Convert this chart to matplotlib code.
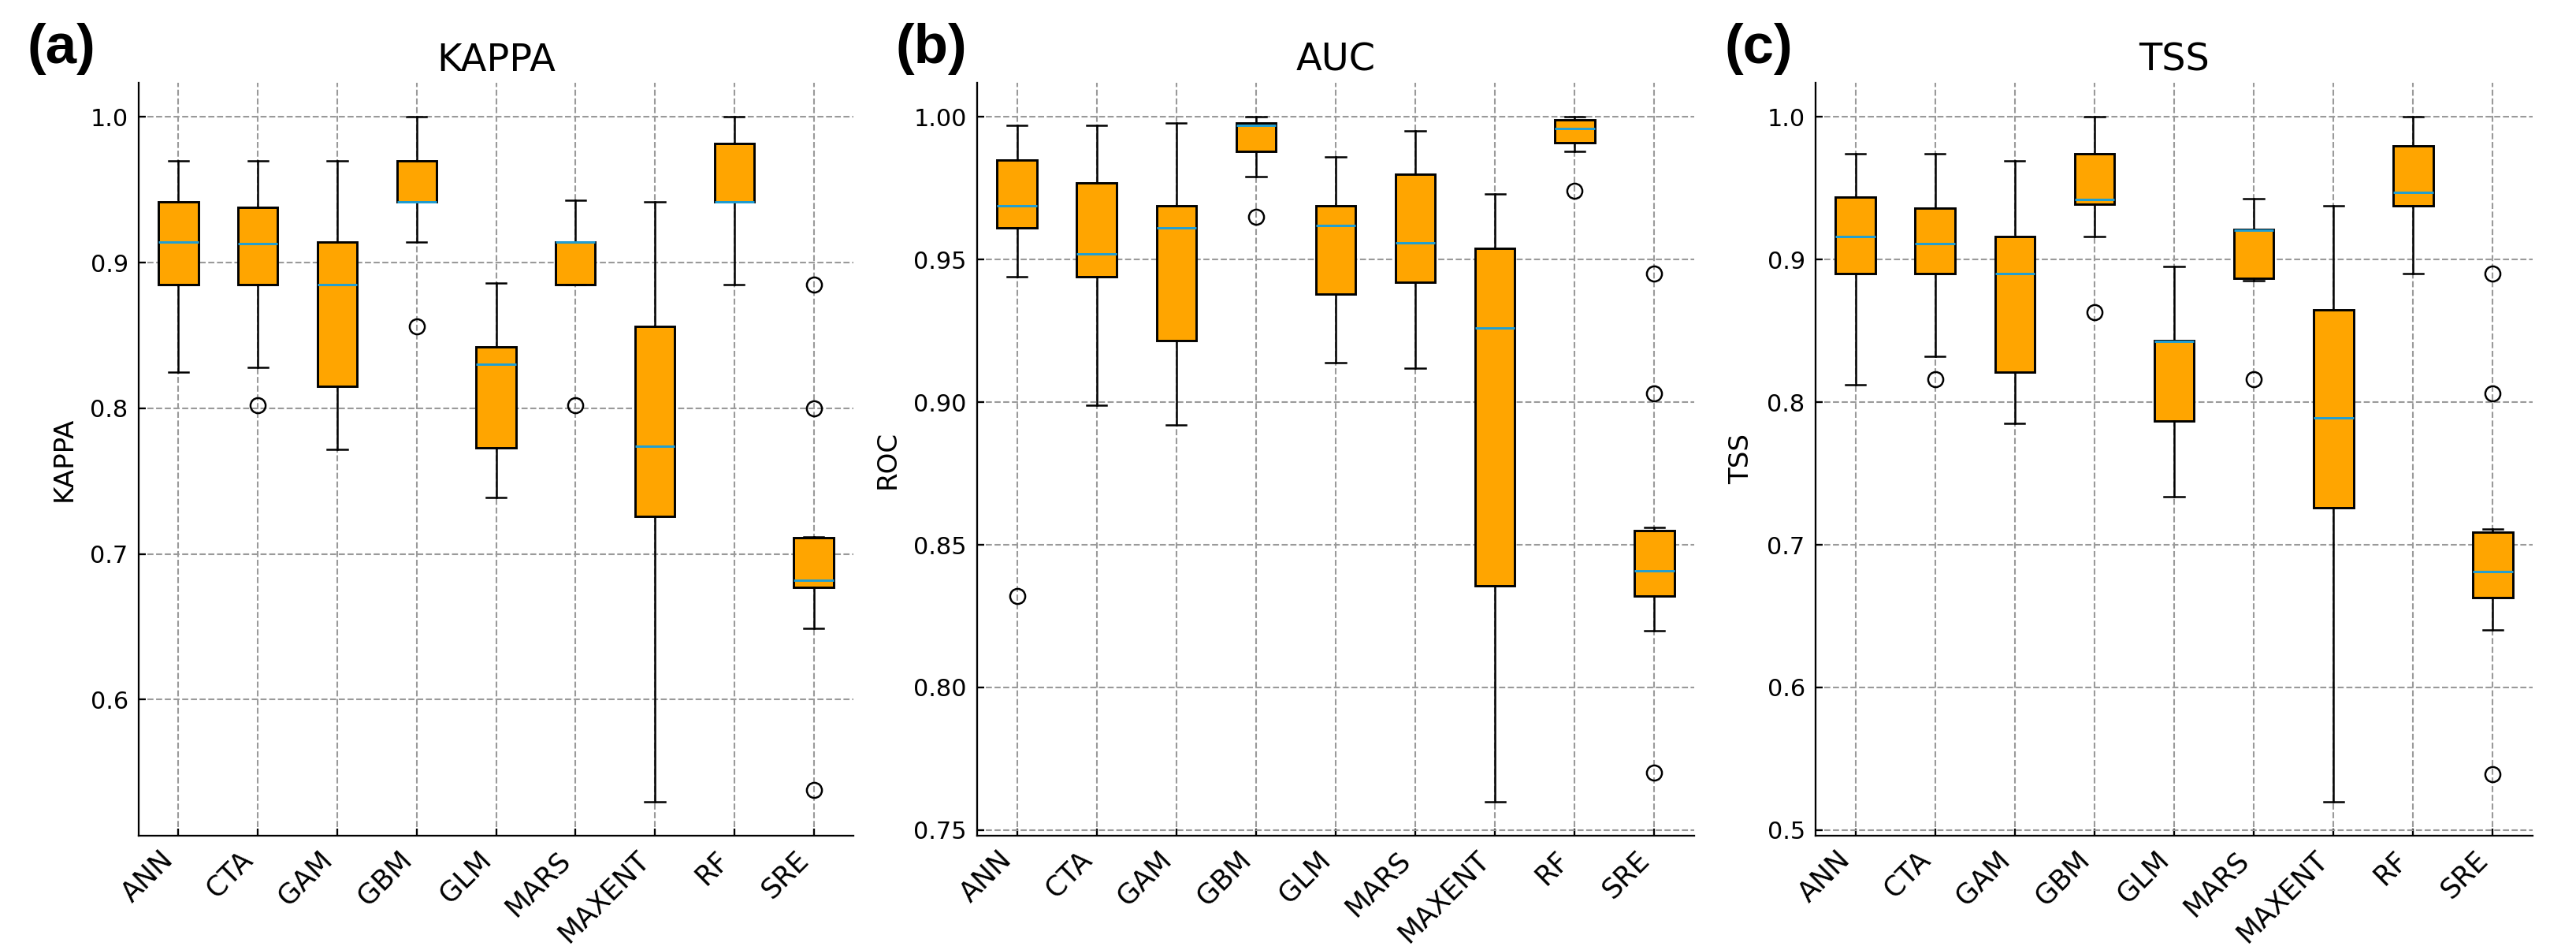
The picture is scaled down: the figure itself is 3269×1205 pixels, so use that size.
import matplotlib
matplotlib.use("Agg")
import matplotlib.pyplot as plt

models = ["ANN", "CTA", "GAM", "GBM", "GLM", "MARS", "MAXENT", "RF", "SRE"]

# KAPPA
kappa_whislo = [0.825, 0.828, 0.772, 0.914, 0.739, 0.885, 0.530, 0.885, 0.649]
kappa_q1 = [0.885, 0.885, 0.815, 0.942, 0.773, 0.885, 0.726, 0.942, 0.677]
kappa_med = [0.914, 0.913, 0.885, 0.942, 0.830, 0.914, 0.774, 0.942, 0.682]
kappa_q3 = [0.942, 0.938, 0.914, 0.970, 0.842, 0.914, 0.856, 0.982, 0.711]
kappa_whishi = [0.970, 0.970, 0.970, 1.000, 0.886, 0.943, 0.942, 1.000, 0.7115]
kappa_fliers = [[], [0.802], [], [0.856], [], [0.802], [], [], [0.885, 0.800, 0.538]]

# AUC (ROC)
auc_whislo = [0.944, 0.899, 0.892, 0.979, 0.914, 0.912, 0.760, 0.988, 0.820]
auc_q1 = [0.961, 0.944, 0.9215, 0.988, 0.938, 0.942, 0.8355, 0.991, 0.832]
auc_med = [0.969, 0.952, 0.961, 0.997, 0.962, 0.956, 0.926, 0.996, 0.841]
auc_q3 = [0.985, 0.977, 0.969, 0.998, 0.969, 0.980, 0.954, 0.999, 0.855]
auc_whishi = [0.997, 0.997, 0.998, 1.000, 0.986, 0.995, 0.973, 1.000, 0.856]
auc_fliers = [[0.832], [], [], [0.965], [], [], [], [0.974], [0.945, 0.903, 0.770]]

# TSS
tss_whislo = [0.812, 0.832, 0.785, 0.916, 0.734, 0.885, 0.520, 0.890, 0.6405]
tss_q1 = [0.890, 0.890, 0.821, 0.939, 0.787, 0.887, 0.726, 0.938, 0.663]
tss_med = [0.916, 0.911, 0.890, 0.942, 0.8425, 0.9205, 0.789, 0.947, 0.681]
tss_q3 = [0.944, 0.936, 0.916, 0.974, 0.843, 0.921, 0.865, 0.980, 0.709]
tss_whishi = [0.974, 0.974, 0.969, 1.000, 0.895, 0.943, 0.938, 1.000, 0.711]
tss_fliers = [[], [0.816], [], [0.863], [], [0.816], [], [], [0.890, 0.806, 0.539]]

panels = [
    ("(a)", "KAPPA", "KAPPA", kappa_whislo, kappa_q1, kappa_med, kappa_q3, kappa_whishi, kappa_fliers),
    ("(b)", "AUC", "ROC", auc_whislo, auc_q1, auc_med, auc_q3, auc_whishi, auc_fliers),
    ("(c)", "TSS", "TSS", tss_whislo, tss_q1, tss_med, tss_q3, tss_whishi, tss_fliers),
]

W, H = 3269, 1205
fig = plt.figure(figsize=(W / 300, H / 300), dpi=300)

ax_left = [176, 1240, 2304]
ax_width = [907, 910, 910]
tag_x = [35, 1136, 2188]

for i, (tag, title, ylab, lo, q1, med, q3, hi, fl) in enumerate(panels):
    ax = fig.add_axes([ax_left[i] / W, 1 - 1060 / H, ax_width[i] / W, 955 / H])
    stats = []
    for k in range(len(models)):
        stats.append(dict(label=models[k], whislo=lo[k], q1=q1[k], med=med[k],
                          q3=q3[k], whishi=hi[k], fliers=fl[k]))
    ax.bxp(stats, patch_artist=True, widths=0.5,
           boxprops=dict(facecolor="#FFA500", edgecolor="black", linewidth=0.7),
           medianprops=dict(color="#1f9fd5", linewidth=0.7),
           whiskerprops=dict(color="black", linewidth=0.6),
           capprops=dict(color="black", linewidth=0.6),
           flierprops=dict(marker="o", markerfacecolor="none", markeredgecolor="black",
                           markersize=4.6, markeredgewidth=0.6))
    ax.set_axisbelow(True)
    ax.grid(True, linestyle="--", color="#9a9a9a", linewidth=0.5)
    ax.spines["top"].set_visible(False)
    ax.spines["right"].set_visible(False)
    ax.spines["left"].set_linewidth(0.55)
    ax.spines["bottom"].set_linewidth(0.55)
    ax.tick_params(direction="in", length=2.2, width=0.55, labelsize=7.3, pad=3.2)
    ax.tick_params(axis="x", labelsize=8.4)
    plt.setp(ax.get_xticklabels(), rotation=45, ha="right")
    ax.set_title(title, fontsize=11.5, pad=3.6)
    ax.set_ylabel(ylab, fontsize=8.2, labelpad=4)
    fig.text(tag_x[i] / W, 1 - 80 / H, tag, fontsize=17, fontweight="bold",
             family="Liberation Sans", va="baseline", ha="left")

fig.savefig("out.png", dpi=300)
